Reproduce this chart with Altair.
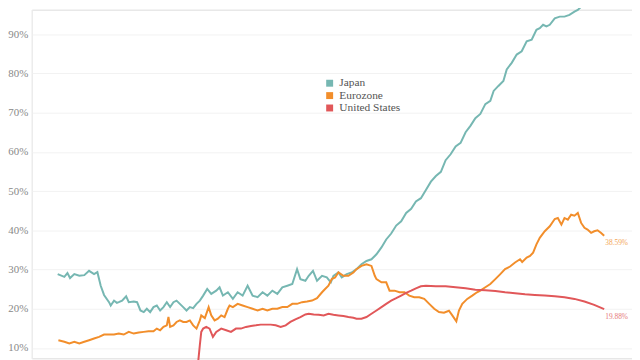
import altair as alt
import pandas as pd

series = ["Japan", "Eurozone", "United States"]
colors = ["#76b7b2", "#f28e2b", "#e15759"]
y_ticks = [10, 20, 30, 40, 50, 60, 70, 80, 90]

jp_year = [2000.01, 2000.29, 2000.42, 2000.53, 2000.71, 2000.92, 2001.13, 2001.33, 2001.54, 2001.68,
           2001.82, 2001.96, 2002.17, 2002.24, 2002.38, 2002.5, 2002.58, 2002.72, 2002.89, 2003.0,
           2003.21, 2003.35, 2003.49, 2003.63, 2003.76, 2003.90, 2004.04, 2004.18, 2004.32, 2004.46,
           2004.60, 2004.74, 2004.88, 2005.01, 2005.15, 2005.29, 2005.43, 2005.57, 2005.71, 2005.85,
           2005.99, 2006.13, 2006.30, 2006.47, 2006.68, 2006.82, 2006.96, 2007.17, 2007.38, 2007.58,
           2007.79, 2008.0, 2008.21, 2008.42, 2008.63, 2008.83, 2009.04, 2009.25, 2009.46, 2009.67,
           2009.88, 2010.08, 2010.22, 2010.43, 2010.57, 2010.75, 2010.92, 2011.13, 2011.33, 2011.50,
           2011.61, 2011.82, 2011.96, 2012.17, 2012.38, 2012.58, 2012.79, 2013.0, 2013.21, 2013.42,
           2013.63, 2013.83, 2014.04, 2014.25, 2014.46, 2014.67, 2014.88, 2015.08, 2015.29, 2015.50,
           2015.71, 2015.92, 2016.13, 2016.33, 2016.54, 2016.75, 2016.96, 2017.17, 2017.38, 2017.58,
           2017.79, 2018.0, 2018.21, 2018.35, 2018.55, 2018.76, 2018.90, 2019.11, 2019.32, 2019.53,
           2019.74, 2019.95, 2020.15, 2020.29, 2020.43, 2020.57, 2020.71, 2020.92, 2021.13, 2021.33,
           2021.54, 2021.75, 2021.89, 2022.10, 2022.31, 2022.46]
jp_value = [28.82, 28.13, 29.07, 27.81, 28.82, 28.39, 28.56, 29.65, 28.82, 29.32,
            25.86, 23.51, 21.67, 20.81, 22.07, 21.49, 21.67, 22.07, 23.18, 21.67,
            21.82, 21.67, 19.55, 19.14, 19.98, 19.14, 20.41, 20.81, 19.55, 20.41,
            21.67, 20.41, 21.67, 22.07, 21.24, 20.41, 19.55, 20.41, 20.15, 21.24,
            22.07, 23.34, 25.03, 23.77, 24.60, 25.46, 23.34, 24.19, 22.50, 24.19,
            23.34, 25.86, 23.34, 22.93, 24.19, 23.34, 24.60, 23.77, 25.46, 25.86,
            26.29, 30.08, 27.55, 27.12, 28.39, 29.65, 27.12, 28.39, 27.98, 26.72,
            28.39, 29.24, 27.98, 28.82, 29.24, 30.08, 31.34, 32.17, 32.60, 33.87,
            35.63, 37.65, 39.17, 41.19, 42.28, 44.40, 45.48, 47.33, 48.18, 50.28,
            52.38, 53.82, 54.90, 57.86, 59.37, 61.39, 62.28, 65.00, 66.69, 68.59,
            69.65, 72.17, 73.01, 75.53, 76.80, 78.06, 81.01, 82.68, 84.80, 85.63,
            88.16, 88.59, 91.11, 91.52, 92.38, 91.95, 92.38, 94.04, 94.47, 94.47,
            94.90, 95.73, 96.16, 97.43, 98.26, 99.0]

ez_year = [2000.04, 2000.29, 2000.50, 2000.71, 2000.92, 2001.13, 2001.33, 2001.54, 2001.75, 2001.96,
           2002.17, 2002.38, 2002.58, 2002.79, 2003.0, 2003.21, 2003.42, 2003.63, 2003.83, 2004.04,
           2004.18, 2004.32, 2004.46, 2004.60, 2004.67, 2004.74, 2004.88, 2005.01, 2005.15, 2005.29,
           2005.43, 2005.57, 2005.71, 2005.85, 2005.99, 2006.05, 2006.20, 2006.36, 2006.47, 2006.61,
           2006.75, 2006.89, 2007.03, 2007.17, 2007.24, 2007.38, 2007.58, 2007.79, 2008.0, 2008.21,
           2008.42, 2008.63, 2008.83, 2009.04, 2009.25, 2009.46, 2009.67, 2009.88, 2010.08, 2010.29,
           2010.50, 2010.71, 2010.92, 2011.13, 2011.26, 2011.40, 2011.54, 2011.68, 2011.82, 2012.03,
           2012.24, 2012.45, 2012.58, 2012.79, 2013.0, 2013.21, 2013.35, 2013.42, 2013.63, 2013.83,
           2013.97, 2014.18, 2014.39, 2014.60, 2014.80, 2015.01, 2015.22, 2015.43, 2015.64, 2015.85,
           2016.05, 2016.26, 2016.47, 2016.61, 2016.78, 2016.89, 2017.03, 2017.24, 2017.45, 2017.65,
           2017.79, 2018.0, 2018.21, 2018.42, 2018.63, 2018.83, 2019.04, 2019.25, 2019.46, 2019.55,
           2019.74, 2019.88, 2020.01, 2020.15, 2020.29, 2020.50, 2020.71, 2020.92, 2021.05, 2021.20,
           2021.33, 2021.47, 2021.61, 2021.75, 2021.89, 2022.03, 2022.17, 2022.30, 2022.45, 2022.58,
           2022.72, 2022.86, 2023.0]
ez_value = [11.97, 11.57, 11.14, 11.57, 11.14, 11.57, 11.97, 12.40, 12.83, 13.41,
            13.41, 13.41, 13.66, 13.41, 14.09, 13.66, 13.92, 14.09, 14.24, 14.24,
            14.93, 14.50, 15.36, 15.76, 17.88, 15.36, 15.76, 16.62, 17.02, 16.62,
            16.62, 17.02, 15.76, 14.93, 17.02, 18.29, 17.60, 20.41, 18.29, 17.02,
            17.45, 18.29, 17.88, 19.98, 20.81, 20.41, 21.24, 20.81, 20.41, 19.98,
            19.55, 19.98, 19.55, 19.98, 19.98, 20.41, 20.41, 21.24, 21.24, 21.67,
            21.82, 22.07, 22.68, 24.19, 25.03, 25.86, 27.55, 27.98, 29.24, 28.39,
            28.39, 29.24, 30.08, 30.91, 31.34, 30.91, 28.39, 27.55, 26.72, 26.72,
            24.60, 24.60, 24.19, 24.19, 23.34, 22.93, 22.93, 22.50, 21.24, 19.98,
            19.14, 18.97, 19.47, 18.29, 16.77, 19.55, 21.24, 22.50, 23.34, 24.19,
            24.60, 25.46, 26.29, 27.55, 28.82, 30.08, 30.76, 31.77, 32.60, 31.92,
            33.03, 33.44, 34.30, 36.39, 38.08, 39.75, 41.01, 42.88, 43.13, 41.44,
            43.13, 42.70, 43.97, 43.71, 44.40, 41.87, 40.61, 40.18, 39.35, 39.75,
            40.00, 39.35, 38.59]

us_year = [2005.88, 2005.99, 2006.05, 2006.13, 2006.26, 2006.40, 2006.54, 2006.68, 2006.89, 2007.10,
           2007.30, 2007.51, 2007.72, 2007.93, 2008.14, 2008.35, 2008.55, 2008.76, 2008.97, 2009.18,
           2009.39, 2009.60, 2009.80, 2010.01, 2010.22, 2010.43, 2010.57, 2010.78, 2010.99, 2011.20,
           2011.40, 2011.61, 2011.82, 2012.03, 2012.24, 2012.45, 2012.58, 2012.79, 2013.0, 2013.21,
           2013.42, 2013.63, 2013.83, 2014.04, 2014.25, 2014.46, 2014.67, 2014.88, 2015.08, 2015.29,
           2015.50, 2015.92, 2016.33, 2016.75, 2017.17, 2017.58, 2018.0, 2018.42, 2018.83, 2019.25,
           2019.67, 2020.08, 2020.50, 2020.92, 2021.33, 2021.75, 2022.17, 2022.58, 2023.0]
us_value = [4.0, 10.71, 14.09, 14.93, 15.36, 14.93, 12.83, 14.09, 14.93, 14.50,
            14.09, 14.93, 14.93, 15.36, 15.61, 15.76, 15.94, 15.94, 15.94, 15.76,
            15.36, 15.76, 16.62, 17.28, 17.88, 18.54, 18.71, 18.54, 18.46, 18.29,
            18.71, 18.46, 18.29, 18.13, 17.88, 17.70, 17.45, 17.45, 17.88, 18.71,
            19.55, 20.41, 21.24, 22.07, 22.68, 23.34, 24.02, 24.60, 25.20, 25.71,
            25.86, 25.71, 25.71, 25.46, 25.20, 24.85, 24.70, 24.52, 24.19, 23.94,
            23.69, 23.51, 23.34, 23.18, 22.93, 22.50, 21.82, 20.99, 19.88]

all_years = [jp_year, ez_year, us_year]
all_values = [jp_value, ez_value, us_value]

rows = []
for name, ys, vs in zip(series, all_years, all_values):
    for yr, v in zip(ys, vs):
        rows.append({"series": name, "year": yr, "value": v})
df = pd.DataFrame(rows)

FONT = "Liberation Serif, DejaVu Serif, serif"
color_scale = alt.Scale(domain=series, range=colors)

x_enc = alt.X("year:Q", scale=alt.Scale(domain=[1998.92, 2024.17], nice=False, zero=False), axis=None)
y_enc = alt.Y(
    "value:Q",
    scale=alt.Scale(domain=[7.35, 96.24], nice=False, zero=False),
    axis=alt.Axis(
        values=y_ticks, labelExpr="datum.value + '%'", ticks=False, title=None,
        domainColor="#eeeeee", gridColor="#f2f2f2", labelFont=FONT, labelFontSize=11,
        labelColor="#888888", labelPadding=4,
    ),
)

lines = alt.Chart(df).mark_line(strokeWidth=2).encode(
    x=x_enc,
    y=y_enc,
    color=alt.Color("series:N", scale=color_scale, sort=series, legend=None),
)

# a layer with no visible marks that only carries the filled-square legend
legend_layer = alt.Chart(df).transform_filter("false").mark_square(size=49, filled=True, opacity=1).encode(
    x="year:Q",
    y="value:Q",
    color=alt.Color(
        "series:N",
        scale=color_scale,
        sort=series,
        legend=alt.Legend(
            title=None, orient="none", legendX=295, legendY=68.5,
            symbolType="square", symbolSize=49, symbolStrokeWidth=0,
            labelFont=FONT, labelFontSize=11.5, labelColor="#555555",
            rowPadding=-0.5, padding=0, labelOffset=4,
        ),
    ),
)

layers = [lines, legend_layer]
for name, col, ys, vs in zip(series[1:], colors[1:], all_years[1:], all_values[1:]):
    end = pd.DataFrame({"year": [ys[-1]], "value": [vs[-1]], "label": [f"{vs[-1]:.2f}%"]})
    layers.append(
        alt.Chart(end).mark_text(
            align="left", baseline="middle", dx=1, dy=7.5, fontSize=7.5, font=FONT,
            color=col, opacity=0.8,
        ).encode(x="year:Q", y="value:Q", text="label:N")
    )

chart = alt.layer(*layers).resolve_legend(color="independent").properties(
    width=606, height=352,
    autosize=alt.AutoSizeParams(type="none"),
    padding={"left": 24, "top": 0, "right": 0, "bottom": 0},
).configure_view(stroke=None).configure(background="white")

chart.save("out.html", embed_options={"renderer": "svg", "actions": False})
